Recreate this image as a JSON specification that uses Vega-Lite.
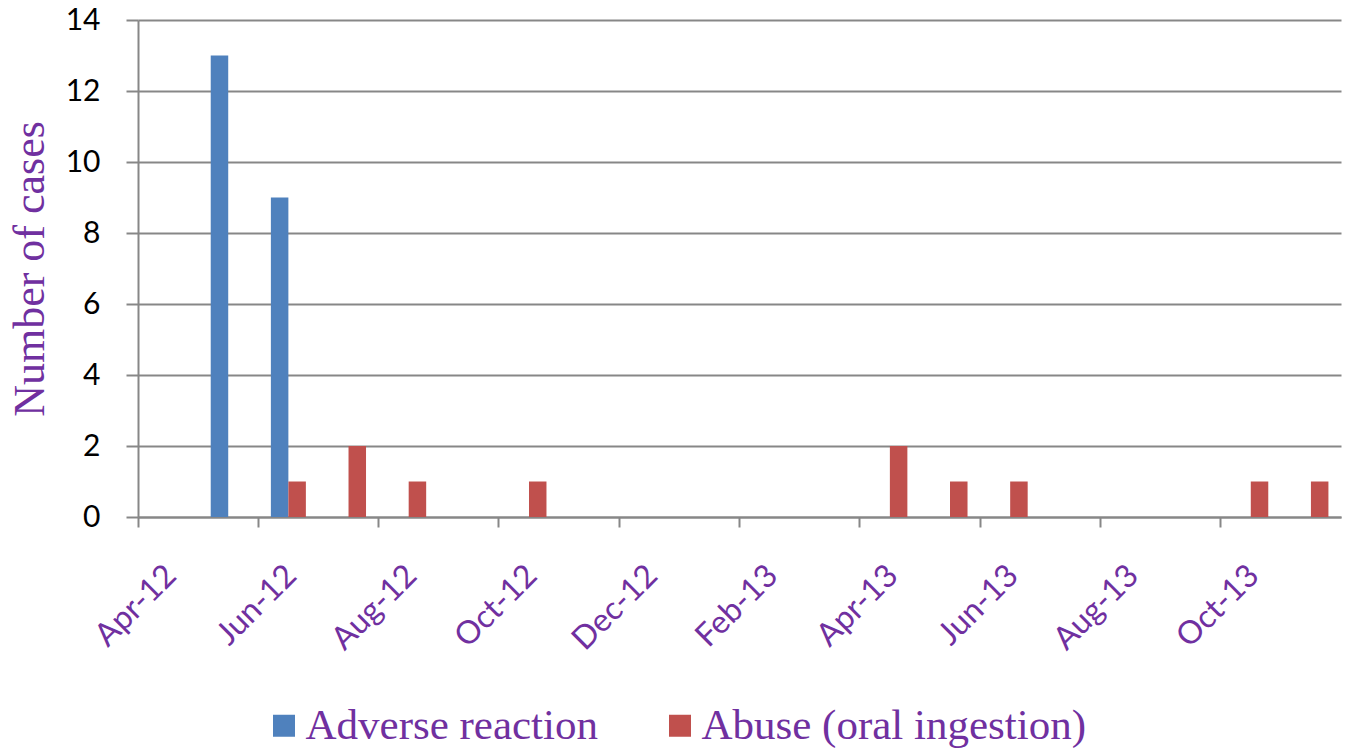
{
  "$schema": "https://vega.github.io/schema/vega-lite/v6.json",
  "width": 1203,
  "height": 497,
  "autosize": {"type": "none"},
  "padding": {"left": 138, "top": 20, "right": 10, "bottom": 234},
  "background": "white",
  "data": {
    "values": [
      {"month": "May-12", "series": "Adverse reaction", "count": 13},
      {"month": "Jun-12", "series": "Adverse reaction", "count": 9},
      {"month": "Jun-12", "series": "Abuse (oral ingestion)", "count": 1},
      {"month": "Jul-12", "series": "Abuse (oral ingestion)", "count": 2},
      {"month": "Aug-12", "series": "Abuse (oral ingestion)", "count": 1},
      {"month": "Oct-12", "series": "Abuse (oral ingestion)", "count": 1},
      {"month": "Apr-13", "series": "Abuse (oral ingestion)", "count": 2},
      {"month": "May-13", "series": "Abuse (oral ingestion)", "count": 1},
      {"month": "Jun-13", "series": "Abuse (oral ingestion)", "count": 1},
      {"month": "Oct-13", "series": "Abuse (oral ingestion)", "count": 1},
      {"month": "Nov-13", "series": "Abuse (oral ingestion)", "count": 1}
    ]
  },
  "config": {
    "view": {"stroke": null},
    "axis": {"domainColor": "#878787", "domainWidth": 2, "tickColor": "#878787", "tickWidth": 2, "gridColor": "#878787", "gridWidth": 2}
  },
  "mark": {"type": "bar"},
  "encoding": {
    "x": {
      "field": "month",
      "type": "nominal",
      "sort": null,
      "scale": {
        "domain": ["Apr-12","May-12","Jun-12","Jul-12","Aug-12","Sep-12","Oct-12","Nov-12","Dec-12","Jan-13","Feb-13","Mar-13","Apr-13","May-13","Jun-13","Jul-13","Aug-13","Sep-13","Oct-13","Nov-13"],
        "paddingInner": 0,
        "paddingOuter": 0
      },
      "axis": {
        "title": null,
        "values": ["Apr-12","Jun-12","Aug-12","Oct-12","Dec-12","Feb-13","Apr-13","Jun-13","Aug-13","Oct-13"],
        "bandPosition": 0,
        "labelOffset": 10,
        "labelAngle": -45,
        "labelAlign": "right",
        "labelBaseline": "alphabetic",
        "labelPadding": 50,
        "tickSize": 10,
        "labelFont": "Lato",
        "labelFontSize": 32,
        "labelColor": "#7030A0",
        "labelLimit": 400,
        "grid": false
      }
    },
    "xOffset": {
      "field": "series",
      "type": "nominal",
      "scale": {"domain": ["Adverse reaction", "Abuse (oral ingestion)"], "paddingInner": 0, "paddingOuter": 0.7186}
    },
    "y": {
      "field": "count",
      "type": "quantitative",
      "scale": {"domain": [0, 14], "nice": false},
      "axis": {
        "title": "Number of cases",
        "titleFont": "Liberation Serif",
        "titleFontSize": 44,
        "titleFontWeight": "normal",
        "titleColor": "#7030A0",
        "titleX": -95,
        "titleBaseline": "alphabetic",
        "values": [0, 2, 4, 6, 8, 10, 12, 14],
        "tickSize": 12,
        "labelPadding": 26,
        "labelFont": "Lato",
        "labelFontSize": 30,
        "labelColor": "#000000",
        "grid": true
      }
    },
    "color": {
      "field": "series",
      "type": "nominal",
      "scale": {"domain": ["Adverse reaction", "Abuse (oral ingestion)"], "range": ["#4F81BD", "#C0504D"]},
      "legend": {
        "title": null,
        "orient": "none",
        "direction": "horizontal",
        "legendX": 124.5,
        "legendY": 684,
        "padding": 0,
        "symbolType": "square",
        "symbolSize": 484,
        "symbolStrokeWidth": 0,
        "labelFont": "Liberation Serif",
        "labelFontSize": 43,
        "labelColor": "#7030A0",
        "labelLimit": 800,
        "labelOffset": 0,
        "columnPadding": 60
      }
    }
  }
}
